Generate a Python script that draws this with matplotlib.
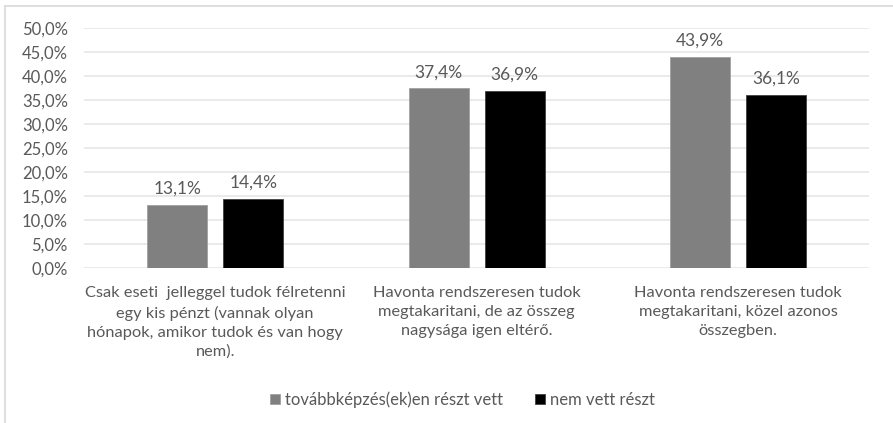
import matplotlib as mpl
mpl.use('Agg')
import matplotlib.pyplot as plt
import numpy as np
from matplotlib.lines import Line2D

categories = [
    'Csak eseti  jelleggel tudok félretenni\negy kis pénzt (vannak olyan\nhónapok, amikor tudok és van hogy\nnem).',
    'Havonta rendszeresen tudok\nmegtakaritani, de az összeg\nnagysága igen eltérő.',
    'Havonta rendszeresen tudok\nmegtakaritani, közel azonos\nösszegben.',
]
series_names = ['továbbképzés(ek)en részt vett', 'nem vett részt']
reszt_vett = [13.1, 37.4, 43.9]
nem_vett = [14.4, 36.9, 36.1]
yticks = [0, 5, 10, 15, 20, 25, 30, 35, 40, 45, 50]

plt.rcParams['font.family'] = ['Lato', 'DejaVu Sans']
txt = '#595959'

fig = plt.figure(figsize=(8.93, 4.23), dpi=100)
ax = fig.add_axes([0.0946, 0.366, 0.8784, 0.568])

x = np.arange(len(categories))
w = 0.23
b1 = ax.bar(x - 0.145, reszt_vett, w, color='#808080', edgecolor='#a0a0a0', linewidth=0.6,
            label=series_names[0], zorder=3)
b2 = ax.bar(x + 0.145, nem_vett, w, color='#000000', edgecolor='#404040', linewidth=0.6,
            label=series_names[1], zorder=3)

for bars in (b1, b2):
    for r in bars:
        ax.annotate(f'{r.get_height():.1f}%'.replace('.', ','),
                    (r.get_x() + r.get_width() / 2, r.get_height()),
                    xytext=(0, 6), textcoords='offset points', ha='center', va='bottom',
                    fontsize=12.5, color=txt)

ax.set_xlim(-0.5, 2.5)
ax.set_ylim(0, 50)
ax.set_yticks(yticks)
ax.set_yticklabels([f'{v:.1f}%'.replace('.', ',') for v in yticks], fontsize=12, color=txt)
ax.set_xticks(x)
ax.set_xticklabels(categories, fontsize=11.8, color=txt, linespacing=1.45)
ax.tick_params(axis='y', length=0, pad=12)
ax.tick_params(axis='x', length=0, pad=13)
ax.grid(axis='y', color='#e6e6e6', linewidth=1.2, zorder=0)
for s in ax.spines.values():
    s.set_visible(False)

fig.legend(handles=[b1, b2], labels=series_names, loc='center', bbox_to_anchor=(0.518, 0.055),
           ncol=2, frameon=False, fontsize=12, handlelength=0.6, handleheight=0.6,
           handletextpad=0.3, columnspacing=1.9, labelcolor=txt)

fig.add_artist(Line2D([5 / 893, 1], [1 - 6 / 423, 1 - 6 / 423], transform=fig.transFigure,
                      color='#d9d9d9', linewidth=1.2))
fig.add_artist(Line2D([5 / 893, 5 / 893], [0, 1 - 6 / 423], transform=fig.transFigure,
                      color='#d9d9d9', linewidth=1.2))

plt.savefig('out.png', dpi=100)
